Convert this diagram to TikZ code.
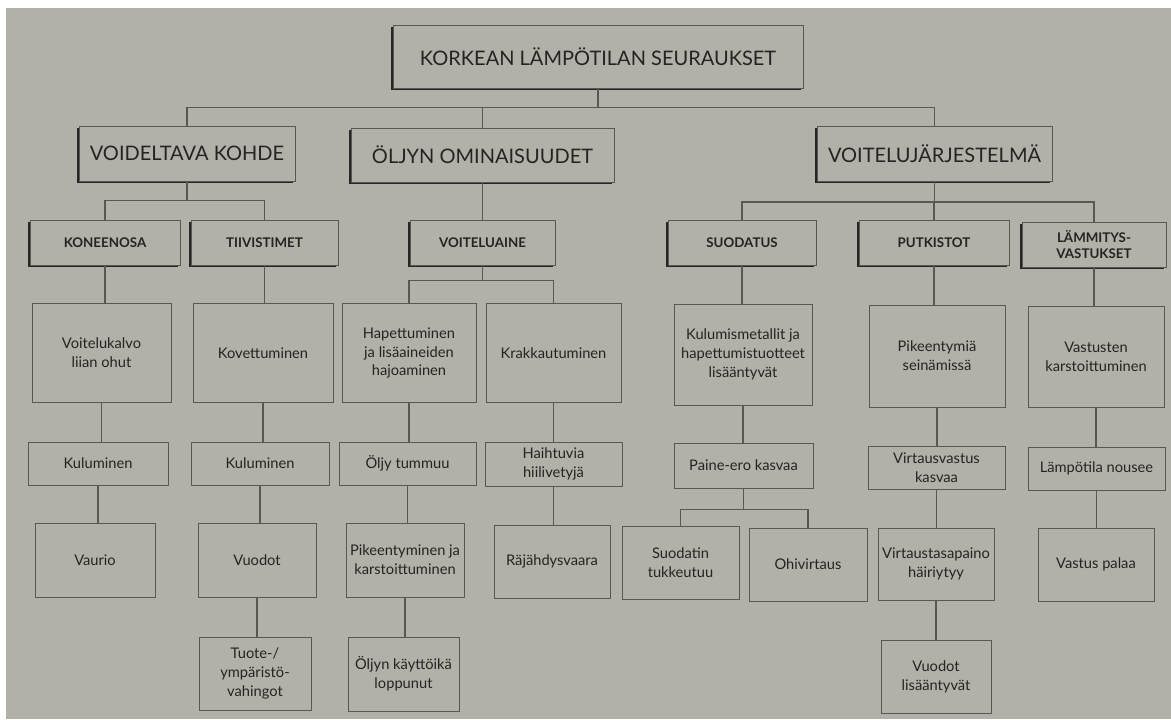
\documentclass[tikz,border=0pt]{standalone}
\usepackage{fontspec}
\setmainfont{Lato}
\definecolor{PageGrey}{HTML}{B3B0A9}
\definecolor{InkGrey}{HTML}{5A5752}
\definecolor{TextDark}{HTML}{262422}
\usetikzlibrary{shadows}

\begin{document}
\begin{tikzpicture}[x=0.75pt,y=-0.75pt,
  sz/.style args={#1/#2}{minimum width=#1*0.75pt,minimum height=#2*0.75pt},
  head/.style={draw=InkGrey,line width=0.6pt,fill=PageGrey,inner sep=1pt,align=center,text=TextDark,
    general shadow={fill=black!85,shadow xshift=-1.6pt,shadow yshift=-1.6pt}},
  main/.style={head,font=\fontsize{15}{18}\selectfont},
  sub/.style={head,font=\fontsize{10}{12}\selectfont\bfseries},
  item/.style={draw=InkGrey,line width=0.6pt,inner sep=1pt,align=center,text=TextDark,
    font=\fontsize{11}{14.2}\selectfont},
  link/.style={draw=InkGrey,line width=0.9pt}]
  % page
  \fill[white] (0,0) rectangle (1171,719);
  \fill[PageGrey] (6,8) rectangle (1171,719);
  \useasboundingbox (0,0) rectangle (1171,719);

  \node[main,sz=410/63] (root) at (598,56.5) {KORKEAN LÄMPÖTILAN SEURAUKSET};

  \node[main,sz=216/55] (vk) at (187,153.5) {VOIDELTAVA KOHDE};
  \node[main,sz=263/54] (oo) at (482.5,155) {ÖLJYN OMINAISUUDET};
  \node[main,sz=235/55] (vj) at (934.5,153.5) {VOITELUJÄRJESTELMÄ};

  \node[sub,sz=150/45] (kon) at (105,242.5) {KONEENOSA};
  \node[sub,sz=147/45] (tii) at (264.5,242.5) {TIIVISTIMET};
  \node[sub,sz=145/45] (voi) at (482.5,242.5) {VOITELUAINE};
  \node[sub,sz=148/45] (suo) at (742,242.5) {SUODATUS};
  \node[sub,sz=150/45] (put) at (934,242.5) {PUTKISTOT};
  \node[sub,sz=144/45] (lam) at (1094,244.5) {LÄMMITYS-\\VASTUKSET};

  \node[item,sz=139/99] (vkalvo) at (101.5,353) {Voitelukalvo\\liian ohut};
  \node[item,sz=140/99] (kov) at (263,353) {Kovettuminen};
  \node[item,sz=134/99] (hap) at (409,353) {Hapettuminen\\ja lisäaineiden\\hajoaminen};
  \node[item,sz=135/99] (kra) at (553.5,353) {Krakkautuminen};
  \node[item,sz=138/101] (kul) at (743,354.5) {Kulumismetallit ja\\hapettumistuotteet\\lisääntyvät};
  \node[item,sz=136/102] (pik) at (937,356) {Pikeentymiä\\seinämissä};
  \node[item,sz=136/101] (vas) at (1096,356.5) {Vastusten\\karstoittuminen};

  \node[item,sz=140/43] (kul1) at (98,463.5) {Kuluminen};
  \node[item,sz=138/43] (kul2) at (260,463.5) {Kuluminen};
  \node[item,sz=137/43] (olj) at (407.5,463.5) {Öljy tummuu};
  \node[item,sz=137/44] (hai) at (553.5,464) {Haihtuvia\\hiilivetyjä};
  \node[item,sz=139/45] (pai) at (743.5,465.5) {Paine-ero kasvaa};
  \node[item,sz=137/43] (vir) at (936.5,467.5) {Virtausvastus\\kasvaa};
  \node[item,sz=137/43] (lap) at (1096.5,468.5) {Lämpötila nousee};

  \node[item,sz=120/74] (vau) at (95,560) {Vaurio};
  \node[item,sz=118/74] (vuo) at (257,560) {Vuodot};
  \node[item,sz=118/74] (pik2) at (405,560) {Pikeentyminen ja\\karstoittuminen};
  \node[item,sz=116/73] (raj) at (552,561.5) {Räjähdysvaara};
  \node[item,sz=117/73] (suod) at (680.5,562.5) {Suodatin\\tukkeutuu};
  \node[item,sz=118/73] (ohi) at (808,564.5) {Ohivirtaus};
  \node[item,sz=116/72] (vts) at (936,564) {Virtaustasapaino\\häiriytyy};
  \node[item,sz=116/73] (vpa) at (1096,564.5) {Vastus palaa};

  \node[item,sz=112/73] (tuo) at (255,673.5) {Tuote-/\\ympäristö-\\vahingot};
  \node[item,sz=111/74] (okk) at (403.5,674) {Öljyn käyttöikä\\loppunut};
  \node[item,sz=110/73] (vli) at (936,676.5) {Vuodot\\lisääntyvät};

  % branches
  \draw[link] (root.south) -- ++(0,19) coordinate (b0);
  \draw[link] (b0) -| (vk.north);
  \draw[link] (b0) -| (oo.north);
  \draw[link] (b0) -| (vj.north);
  \draw[link] (vk.south) -- ++(0,19) coordinate (b1);
  \draw[link] (b1) -| (kon.north);
  \draw[link] (b1) -| (tii.north);
  \draw[link] (oo) -- (voi);
  \draw[link] (voi.south) -- ++(0,15) coordinate (b2);
  \draw[link] (b2) -| (hap.north);
  \draw[link] (b2) -| (kra.north);
  \draw[link] (vj.south) -- ++(0,20.5) coordinate (b3);
  \draw[link] (b3) -| (suo.north);
  \draw[link] (b3) -| (put.north);
  \draw[link] (b3) -| (lam.north);
  \draw[link] (pai.south) -- ++(0,21) coordinate (b4);
  \draw[link] (b4) -| (suod.north);
  \draw[link] (b4) -| (ohi.north);

  % chains
  \draw[link] (kon.south) -- (kon.south |- vkalvo.north);
  \draw[link] (vkalvo.south) -- (vkalvo.south |- kul1.north);
  \draw[link] (kul1.south) -- (kul1.south |- vau.north);
  \draw[link] (tii.south) -- (tii.south |- kov.north);
  \draw[link] (kov.south) -- (kov.south |- kul2.north);
  \draw[link] (kul2.south) -- (kul2.south |- vuo.north);
  \draw[link] (vuo.south) -- (vuo.south |- tuo.north);
  \draw[link] (hap.south) -- (hap.south |- olj.north);
  \draw[link] (olj.south) -- (olj.south |- pik2.north);
  \draw[link] (pik2.south) -- (pik2.south |- okk.north);
  \draw[link] (kra.south) -- (kra.south |- hai.north);
  \draw[link] (hai.south) -- (hai.south |- raj.north);
  \draw[link] (suo.south) -- (suo.south |- kul.north);
  \draw[link] (kul.south) -- (kul.south |- pai.north);
  \draw[link] (put.south) -- (put.south |- pik.north);
  \draw[link] (pik.south) -- (pik.south |- vir.north);
  \draw[link] (vir.south) -- (vir.south |- vts.north);
  \draw[link] (vts.south) -- (vts.south |- vli.north);
  \draw[link] (lam.south) -- (lam.south |- vas.north);
  \draw[link] (vas.south) -- (vas.south |- lap.north);
  \draw[link] (lap.south) -- (lap.south |- vpa.north);
\end{tikzpicture}
\end{document}
